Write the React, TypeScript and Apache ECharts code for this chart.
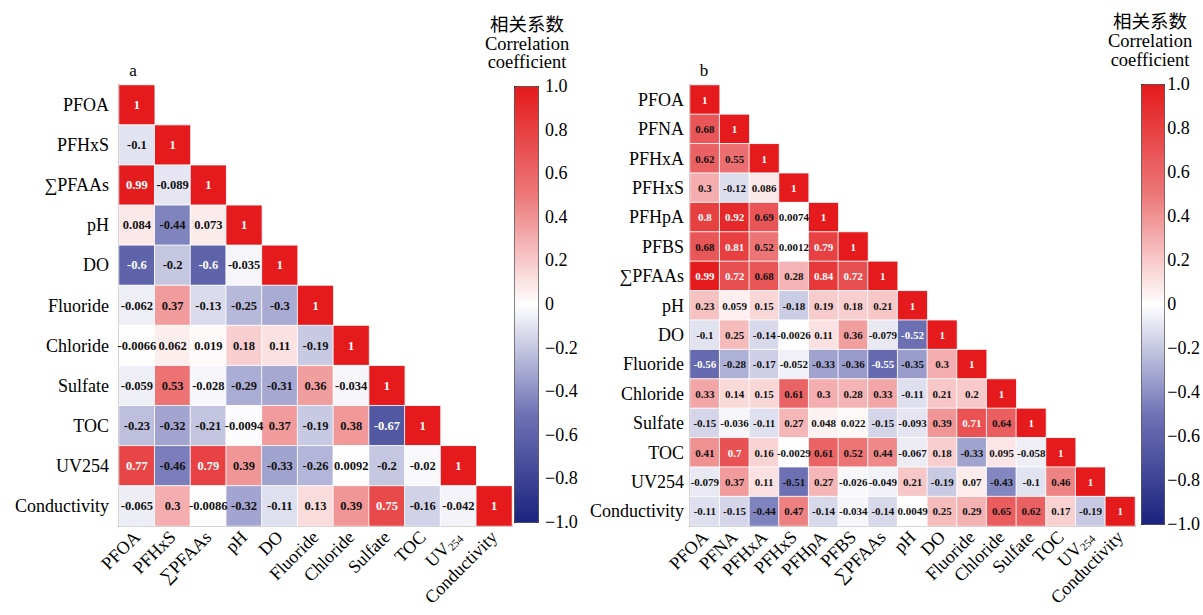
import React, { useEffect, useRef } from "react";
import * as echarts from "echarts";

const varsA = ["PFOA", "PFHxS", "∑PFAAs", "pH", "DO", "Fluoride", "Chloride", "Sulfate", "TOC", "UV254", "Conductivity"];
const corrA: number[][] = [
  [1],
  [-0.1, 1],
  [0.99, -0.089, 1],
  [0.084, -0.44, 0.073, 1],
  [-0.6, -0.2, -0.6, -0.035, 1],
  [-0.062, 0.37, -0.13, -0.25, -0.3, 1],
  [-0.0066, 0.062, 0.019, 0.18, 0.11, -0.19, 1],
  [-0.059, 0.53, -0.028, -0.29, -0.31, 0.36, -0.034, 1],
  [-0.23, -0.32, -0.21, -0.0094, 0.37, -0.19, 0.38, -0.67, 1],
  [0.77, -0.46, 0.79, 0.39, -0.33, -0.26, 0.0092, -0.2, -0.02, 1],
  [-0.065, 0.3, -0.0086, -0.32, -0.11, 0.13, 0.39, 0.75, -0.16, -0.042, 1],
];

const varsB = ["PFOA", "PFNA", "PFHxA", "PFHxS", "PFHpA", "PFBS", "∑PFAAs", "pH", "DO", "Fluoride", "Chloride", "Sulfate", "TOC", "UV254", "Conductivity"];
const corrB: number[][] = [
  [1],
  [0.68, 1],
  [0.62, 0.55, 1],
  [0.3, -0.12, 0.086, 1],
  [0.8, 0.92, 0.69, 0.0074, 1],
  [0.68, 0.81, 0.52, 0.0012, 0.79, 1],
  [0.99, 0.72, 0.68, 0.28, 0.84, 0.72, 1],
  [0.23, 0.059, 0.15, -0.18, 0.19, 0.18, 0.21, 1],
  [-0.1, 0.25, -0.14, -0.0026, 0.11, 0.36, -0.079, -0.52, 1],
  [-0.56, -0.28, -0.17, -0.052, -0.33, -0.36, -0.55, -0.35, 0.3, 1],
  [0.33, 0.14, 0.15, 0.61, 0.3, 0.28, 0.33, -0.11, 0.21, 0.2, 1],
  [-0.15, -0.036, -0.11, 0.27, 0.048, 0.022, -0.15, -0.093, 0.39, 0.71, 0.64, 1],
  [0.41, 0.7, 0.16, -0.0029, 0.61, 0.52, 0.44, -0.067, 0.18, -0.33, 0.095, -0.058, 1],
  [-0.079, 0.37, 0.11, -0.51, 0.27, -0.026, -0.049, 0.21, -0.19, 0.07, -0.43, -0.1, 0.46, 1],
  [-0.11, -0.15, -0.44, 0.47, -0.14, -0.034, -0.14, 0.0049, 0.25, 0.29, 0.65, 0.62, 0.17, -0.19, 1],
];

const colorbarTicks = { min: -1, max: 1, interval: 0.2 };
const panelLabels = ["a", "b"];
const cbTitle = ["相关系数", "Correlation", "coefficient"];

const SERIF = "Liberation Serif";
const RAMP = ["#1a237e", "#6f73b5", "#ffffff", "#ec7879", "#e41a1c"];

function cells(m: number[][]) {
  const out: any[] = [];
  m.forEach((row, i) =>
    row.forEach((v, j) => {
      out.push({
        value: [j, i, v],
        label: { color: v >= 0.7 || v <= -0.52 ? "#ffffff" : "#111111" },
      });
    })
  );
  return out;
}

const xLabelFmt = (v: string) => (v === "UV254" ? "{n|UV}{s|254}" : "{n|" + v + "}");
const cbFmt = (v: number) => {
  if (Math.abs(v) < 1e-9) return "0";
  if (v < 0) return "\u2212" + Math.abs(v).toFixed(1);
  return v.toFixed(1);
};

export default function App() {
  const ref = useRef<HTMLDivElement>(null);
  useEffect(() => {
    if (!ref.current) return;
    const chart = echarts.init(ref.current, undefined, { renderer: "svg" });
    const axisLine = { show: true, lineStyle: { color: "#333", width: 1.5 } };
    const catX = (grid: number, data: string[]) => ({
      type: "category",
      gridIndex: grid,
      data,
      axisLine,
      axisTick: { show: false },
      splitLine: { show: false },
      axisLabel: {
        interval: 0,
        rotate: 45,
        margin: 8,
        formatter: xLabelFmt,
        rich: {
          n: { fontFamily: SERIF, fontSize: 18, color: "#000" },
          s: { fontFamily: SERIF, fontSize: 11, color: "#000", verticalAlign: "bottom", padding: [8, 0, 0, 0] },
        },
      },
    });
    const catY = (grid: number, data: string[], margin: number) => ({
      type: "category",
      gridIndex: grid,
      data,
      inverse: true,
      axisLine,
      axisTick: { show: false },
      splitLine: { show: false },
      axisLabel: { interval: 0, margin, fontFamily: SERIF, fontSize: 18, color: "#000" },
    });
    const cbY = (grid: number) => ({
      type: "value",
      gridIndex: grid,
      position: "right",
      min: colorbarTicks.min,
      max: colorbarTicks.max,
      interval: colorbarTicks.interval,
      axisLine: { show: false },
      axisTick: { show: true, length: 4, lineStyle: { color: "#333" } },
      splitLine: { show: false },
      axisLabel: { formatter: cbFmt, fontFamily: SERIF, fontSize: 18, color: "#000", margin: 7 },
    });
    const heat = (xi: number, m: number[][], fs: number) => ({
      type: "heatmap",
      xAxisIndex: xi,
      yAxisIndex: xi,
      data: cells(m),
      itemStyle: { borderColor: "rgba(255,255,255,0.85)", borderWidth: 1 },
      label: { show: true, formatter: (p: any) => String(p.value[2]), fontFamily: SERIF, fontWeight: "bold", fontSize: fs },
    });
    const vm = (si: number, left: number, top: number, w: number, h: number) => ({
      type: "continuous",
      seriesIndex: si,
      dimension: 2,
      min: -1,
      max: 1,
      calculable: false,
      hoverLink: false,
      left,
      top,
      itemWidth: w,
      itemHeight: h,
      padding: 0,
      borderColor: "#333",
      borderWidth: 1,
      inRange: { color: RAMP },
    });
    const titleTexts = (cx: number, ys: number[]) =>
      cbTitle.map((t, k) => ({
        type: "text",
        x: cx,
        y: ys[k],
        style: {
          text: t,
          fontFamily: k === 0 ? "Noto Sans CJK SC" : SERIF,
          fontSize: 18.5,
          fill: "#000",
          textAlign: "center",
          textVerticalAlign: "middle",
        },
      }));
    chart.setOption({
      animation: false,
      backgroundColor: "#fff",
      grid: [
        { left: 119, top: 85, width: 393, height: 441 },
        { left: 690, top: 85, width: 445, height: 441 },
        { left: 514, top: 86, width: 24, height: 436 },
        { left: 1141, top: 84, width: 23, height: 440 },
      ],
      xAxis: [
        catX(0, varsA),
        catX(1, varsB),
        { type: "value", gridIndex: 2, show: false, min: 0, max: 1 },
        { type: "value", gridIndex: 3, show: false, min: 0, max: 1 },
      ],
      yAxis: [catY(0, varsA, 10), catY(1, varsB, 6), cbY(2), cbY(3)],
      visualMap: [vm(0, 514, 86, 24, 436), vm(1, 1141, 84, 23, 440)],
      series: [heat(0, corrA, 12.5), heat(1, corrB, 11)],
      graphic: [
        { type: "text", x: 133, y: 70, style: { text: panelLabels[0], fontFamily: SERIF, fontSize: 17, fill: "#000", textAlign: "center", textVerticalAlign: "middle" } },
        { type: "text", x: 704, y: 70, style: { text: panelLabels[1], fontFamily: SERIF, fontSize: 17, fill: "#000", textAlign: "center", textVerticalAlign: "middle" } },
        ...titleTexts(527, [23, 44, 62]),
        ...titleTexts(1150, [20, 41, 60]),
      ],
    });
    return () => chart.dispose();
  }, []);
  return <div ref={ref} style={{ position: "fixed", left: 0, top: 0, width: 1203, height: 615 }} />;
}
